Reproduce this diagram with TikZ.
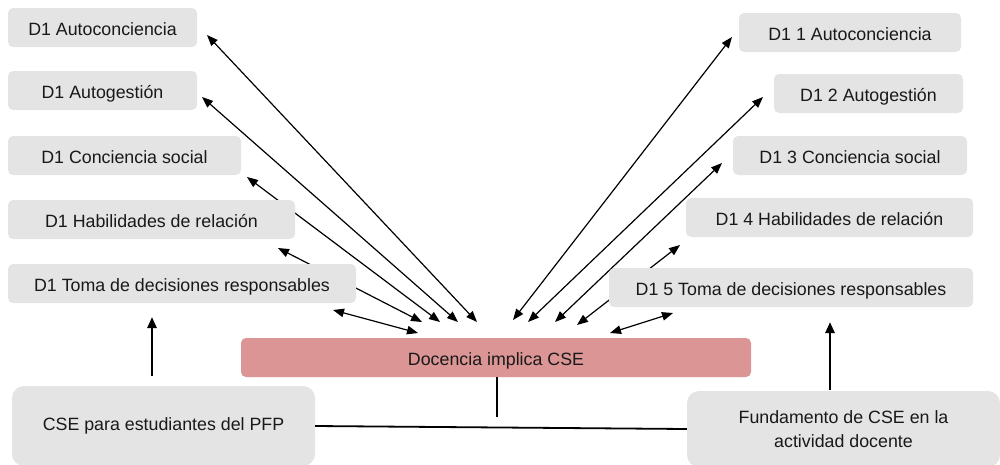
\documentclass[tikz,border=0pt]{standalone}
\usepackage{fontspec}
\setmainfont{Liberation Sans}
\usetikzlibrary{arrows.meta}
\pgfdeclarelayer{background}
\pgfsetlayers{background,main}
\definecolor{boxgray}{HTML}{E4E4E4}
\definecolor{boxpink}{HTML}{DA9594}
\begin{document}
\begin{tikzpicture}[x=1pt,y=-1pt,
  box/.style={rectangle,rounded corners=5pt,fill=boxgray,draw=none,inner sep=0pt,
    minimum height=39pt,font=\fontsize{17.8}{22}\selectfont,text=black!90,
    text height=16pt,text depth=0pt},
  pinkbox/.style={box,fill=boxpink},
  bigbox/.style={rectangle,rounded corners=12pt,fill=boxgray,draw=none,inner sep=0pt,
    align=center,font=\fontsize{17.8}{24}\selectfont,text=black!90},
  dbl/.style={line width=1.2pt,{Triangle[length=11pt,width=8.5pt]}-{Triangle[length=11pt,width=8.5pt]}},
  thick arrow/.style={line width=2.5pt,-{Triangle[length=11pt,width=9pt]}},
  plain/.style={line width=1.8pt}]
\useasboundingbox (0,0) rectangle (1000,464);
\clip (0,0) rectangle (1000,464);
% left column
\node[box,minimum width=189pt] (L1) at (102.5,27.5) {D1 Autoconciencia};
\node[box,minimum width=189pt] (L2) at (102.5,90.5) {D1 Autogestión};
\node[box,minimum width=233pt] (L3) at (124.5,155.5) {D1 Conciencia social};
\node[box,minimum width=287pt] (L4) at (151.5,219.5) {D1 Habilidades de relación};
\node[box,minimum width=348pt] (L5) at (182,283.5) {D1 Toma de decisiones responsables};
% right column
\node[box,minimum width=222pt] (R1) at (850,32.5) {D1 1 Autoconciencia};
\node[box,minimum width=189pt] (R2) at (868.5,93.5) {D1 2 Autogestión};
\node[box,minimum width=234pt] (R3) at (850,155.5) {D1 3 Conciencia social};
\node[box,minimum width=287pt] (R4) at (829.5,217.5) {D1 4 Habilidades de relación};
\node[box,minimum width=364pt] (R5) at (791,287.5) {D1 5 Toma de decisiones responsables};
% center
\node[pinkbox,minimum width=510pt] (C) at (496,357.5) {Docencia implica CSE};
% bottom
\node[bigbox,minimum width=303pt,minimum height=80pt] (B1) at (163.5,426) {CSE para estudiantes del PFP};
\node[bigbox,minimum width=313pt,minimum height=76pt] (B2) at (843.5,429) {Fundamento de CSE en la\\actividad docente};
% connector end points
\coordinate (l1a) at (207,35);  \coordinate (l1b) at (477,322);
\coordinate (l2a) at (202,97);  \coordinate (l2b) at (458,322);
\coordinate (l3a) at (247,177); \coordinate (l3b) at (440,322);
\coordinate (l4a) at (278,248); \coordinate (l4b) at (422,322);
\coordinate (l5a) at (333,310); \coordinate (l5b) at (418,333);
\coordinate (r1a) at (732,37);  \coordinate (r1b) at (513,320);
\coordinate (r2a) at (763,97);  \coordinate (r2b) at (528,322);
\coordinate (r3a) at (722,163); \coordinate (r3b) at (555,322);
\coordinate (r4a) at (680,245); \coordinate (r4b) at (577,325);
\coordinate (r5a) at (673,313); \coordinate (r5b) at (610,333);
\coordinate (b1top) at (152,376); \coordinate (b1tip) at (152,317);
\coordinate (b2top) at (830,390); \coordinate (b2tip) at (830,322);
\coordinate (cl) at (497,417);
\begin{pgfonlayer}{background}
\draw[dbl] (l1a) -- (l1b);
\draw[dbl] (l2a) -- (l2b);
\draw[dbl] (l3a) -- (l3b);
\draw[dbl] (l4a) -- (l4b);
\draw[dbl] (l5a) -- (l5b);
\draw[dbl] (r1a) -- (r1b);
\draw[dbl] (r2a) -- (r2b);
\draw[dbl] (r3a) -- (r3b);
\draw[dbl] (r4a) -- (r4b);
\draw[dbl] (r5a) -- (r5b);
\end{pgfonlayer}
\draw[thick arrow] (b1top) -- (b1tip);
\draw[thick arrow] (b2top) -- (b2tip);
\draw[plain] (B1.east) -- (B2.west);
\draw[line width=1.5pt] (C.south -| cl) -- (cl);
\end{tikzpicture}
\end{document}
